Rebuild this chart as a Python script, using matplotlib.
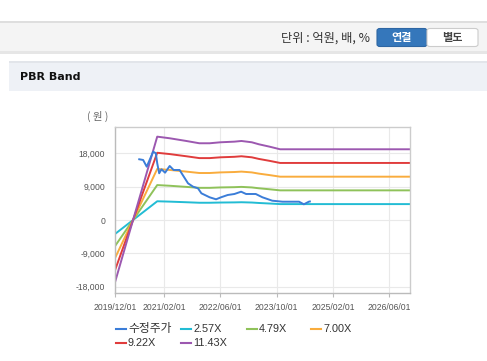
import matplotlib
matplotlib.use("Agg")
import matplotlib.pyplot as plt
import matplotlib.dates as mdates
import matplotlib.ticker as mticker
from matplotlib.patches import Rectangle, FancyBboxPatch
from matplotlib.lines import Line2D
import pandas as pd

# --- data ---
price_dates = ["2020-06-28", "2020-08-01", "2020-09-01", "2020-10-27", "2020-11-19",
               "2020-12-01", "2020-12-18", "2021-01-07", "2021-02-07", "2021-03-19",
               "2021-04-22", "2021-06-13", "2021-07-10", "2021-08-25", "2021-10-07",
               "2021-11-19", "2021-12-19", "2022-02-28", "2022-04-25", "2022-06-07",
               "2022-08-04", "2022-10-01", "2022-11-28", "2023-01-10", "2023-04-04",
               "2023-06-01", "2023-08-25", "2023-11-22", "2024-04-13", "2024-05-25",
               "2024-07-07", "2024-07-16"]
price_values = [16390, 16200, 14390, 18440, 18010, 15310, 12610, 13690, 12770, 14580,
                13500, 13500, 12150, 9900, 9000, 8560, 7200, 6130, 5590, 6130,
                6750, 7020, 7640, 7020, 7020, 6130, 5210, 4940, 4940, 4240,
                4940, 5000]

bps_dates = ["2019-12-01", "2020-12-01", "2021-03-19", "2021-08-10", "2021-12-01",
             "2022-03-01", "2022-06-01", "2022-10-01", "2022-12-01", "2023-03-01",
             "2023-05-01", "2023-08-01", "2023-11-01", "2026-12-01"]
bps_values = [-1470, 1968, 1930, 1866, 1812, 1812, 1835, 1850, 1866, 1835,
              1788, 1732, 1670, 1670]

multiples = [2.57, 4.79, 7.00, 9.22, 11.43]
band_labels = ["2.57X", "4.79X", "7.00X", "9.22X", "11.43X"]
price_label = "수정주가"

tick_dates = ["2019-12-01", "2021-02-01", "2022-06-01", "2023-10-01", "2025-02-01", "2026-06-01"]
y_ticks = [-18000, -9000, 0, 9000, 18000]

price_color = "#3b7dd8"
band_colors = ["#22bcd4", "#8fc25a", "#f9ac3d", "#e03c3c", "#9c58b0"]

plt.rcParams["font.family"] = ["Liberation Sans", "Noto Sans CJK KR", "DejaVu Sans"]

W, H = 487, 361
fig = plt.figure(figsize=(W / 100, H / 100), dpi=100)


def box(x0, y0, x1, y1, **kw):
    """Rectangle given in pixel coords (top-left origin)."""
    r = Rectangle((x0 / W, 1 - y1 / H), (x1 - x0) / W, (y1 - y0) / H,
                  transform=fig.transFigure, **kw)
    fig.add_artist(r)


def ftext(x, y, s, **kw):
    fig.text(x / W, 1 - y / H, s, **kw)


# header bar
box(0, 21, W, 23, color="#dedede", lw=0)
box(0, 23, W, 51, color="#f4f4f4", lw=0)
box(0, 51, W, 54, color="#e6e6e6", lw=0)
ftext(370, 38.5, "단위 : 억원, 배, %", ha="right", va="center", fontsize=8.8,
      color="#333333", family=["Noto Sans CJK KR", "DejaVu Sans"])

# buttons
b1 = FancyBboxPatch((377 / W, 1 - 46.5 / H), 50 / W, 18 / H,
                    boxstyle="round,pad=0,rounding_size=0.006",
                    transform=fig.transFigure, fc="#3577bb", ec="#2e66a3", lw=0.8)
fig.add_artist(b1)
b2 = FancyBboxPatch((427 / W, 1 - 46.5 / H), 51 / W, 18 / H,
                    boxstyle="round,pad=0,rounding_size=0.006",
                    transform=fig.transFigure, fc="#ffffff", ec="#cccccc", lw=0.8)
fig.add_artist(b2)
ftext(402, 37.5, "연결", ha="center", va="center", fontsize=8, color="white",
      fontweight="bold", family=["Noto Sans CJK KR"])
ftext(452.5, 37.5, "별도", ha="center", va="center", fontsize=8, color="#444444",
      fontweight="bold", family=["Noto Sans CJK KR"])

# panel title bar
box(9, 61, W, 63, color="#e2e5ea", lw=0)
box(9, 63, W, 91, color="#eef1f6", lw=0)
ftext(20, 77.5, "PBR Band", ha="left", va="center", fontsize=8, fontweight="bold",
      color="#111111", family=["DejaVu Sans"])

# --- chart ---
ax = fig.add_axes([115 / W, 68 / H, 295 / W, 166 / H])

pdates = pd.to_datetime(price_dates)
bdates = pd.to_datetime(bps_dates)

for m, c in zip(multiples, band_colors):
    ax.plot(bdates, [v * m for v in bps_values], color=c, lw=1.4, solid_capstyle="butt")
ax.plot(pdates, price_values, color=price_color, lw=1.4)

ax.set_xlim(pd.Timestamp("2019-12-01"), pd.Timestamp("2026-12-01"))
ax.set_ylim(-19700, 25100)
ax.set_xticks(pd.to_datetime(tick_dates))
ax.xaxis.set_major_formatter(mdates.DateFormatter("%Y/%m/%d"))
ax.set_yticks(y_ticks)
ax.yaxis.set_major_formatter(mticker.FuncFormatter(lambda v, p: f"{int(v):,}"))

ax.grid(True, color="#e9e9e9", lw=0.8)
ax.set_axisbelow(True)
for s in ax.spines.values():
    s.set_color("#cccccc")
    s.set_linewidth(1.0)
ax.spines["left"].set_color("#bbbbbb")
ax.spines["bottom"].set_color("#bbbbbb")
ax.tick_params(axis="x", length=3, color="#bbbbbb", labelsize=6.2, labelcolor="#555555", pad=4)
ax.tick_params(axis="y", length=0, labelsize=6.2, labelcolor="#555555", pad=7)

ftext(108.5, 116.5, "( 원 )", ha="right", va="center", fontsize=7.5, color="#666666",
      family=["Noto Sans CJK KR"])

# legend, laid out like the original
entries = [(price_label, price_color)] + list(zip(band_labels, band_colors))
slots = [(116, 329), (181, 329), (247, 329), (311, 329), (116, 343), (181, 343)]
for (lab, c), (x, y) in zip(entries, slots):
    fig.add_artist(Line2D([x / W, (x + 10) / W], [1 - y / H, 1 - y / H],
                          transform=fig.transFigure, color=c, lw=1.5))
    fs = 8.5 if lab == price_label else 7.8
    ftext(x + 12, y, lab, ha="left", va="center", fontsize=fs, color="#333333")

fig.savefig("out.png", dpi=100)
